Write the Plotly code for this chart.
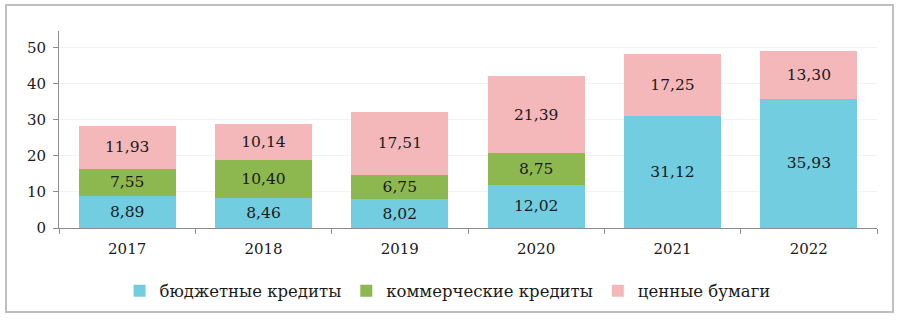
import plotly.graph_objects as go

years = ["2017", "2018", "2019", "2020", "2021", "2022"]
budget = [8.89, 8.46, 8.02, 12.02, 31.12, 35.93]
commercial = [7.55, 10.40, 6.75, 8.75, None, None]
securities = [11.93, 10.14, 17.51, 21.39, 17.25, 13.30]

names = ["бюджетные кредиты", "коммерческие кредиты", "ценные бумаги"]
colors = ["#72CDE0", "#8DB850", "#F5B8BA"]
FONT = "DejaVu Serif"

fig = go.Figure()
for name, vals, col in zip(names, [budget, commercial, securities], colors):
    fig.add_trace(go.Bar(
        x=years, y=vals, name=name, marker_color=col, marker_line_width=0,
        texttemplate="%{y:.2f}", textposition="inside", insidetextanchor="middle",
        textfont=dict(family=FONT, size=15.5, color="#1a1a1a"),
        hoverinfo="skip",
    ))

fig.update_layout(
    barmode="stack",
    bargap=0.29,
    separators=", ",
    width=897, height=322,
    margin=dict(l=59, r=20, t=31, b=94),
    paper_bgcolor="white", plot_bgcolor="white",
    font=dict(family=FONT, size=15, color="#1a1a1a"),
    showlegend=True,
    legend=dict(orientation="h", x=0.475, xanchor="center", y=-0.32, yanchor="middle",
                font=dict(family=FONT, size=16.5), itemwidth=30, traceorder="normal"),
    uniformtext=dict(mode="show", minsize=10),
)
fig.update_xaxes(
    type="category", showline=True, linecolor="#8C8C8C", linewidth=1,
    ticks="outside", tickson="boundaries", ticklen=5, tickcolor="#8C8C8C",
    showgrid=False, tickfont=dict(family=FONT, size=15), ticklabelstandoff=7,
)
fig.update_yaxes(
    range=[0, 54.7], tickvals=[0, 10, 20, 30, 40, 50],
    showline=True, linecolor="#8C8C8C", linewidth=1,
    ticks="outside", ticklen=5, tickcolor="#8C8C8C",
    showgrid=True, gridcolor="#F2F2F2", gridwidth=1, zeroline=False,
    tickfont=dict(family=FONT, size=15), ticklabelstandoff=4,
)
fig.add_shape(type="rect", xref="paper", yref="paper",
              x0=-0.0648, x1=1.0196, y0=-0.426, y1=1.132,
              line=dict(color="#BFBFBF", width=2), layer="below")
fig.write_html("out.html", config={"displayModeBar": False},
               post_script="document.body.style.margin='0';document.body.style.padding='0';")
